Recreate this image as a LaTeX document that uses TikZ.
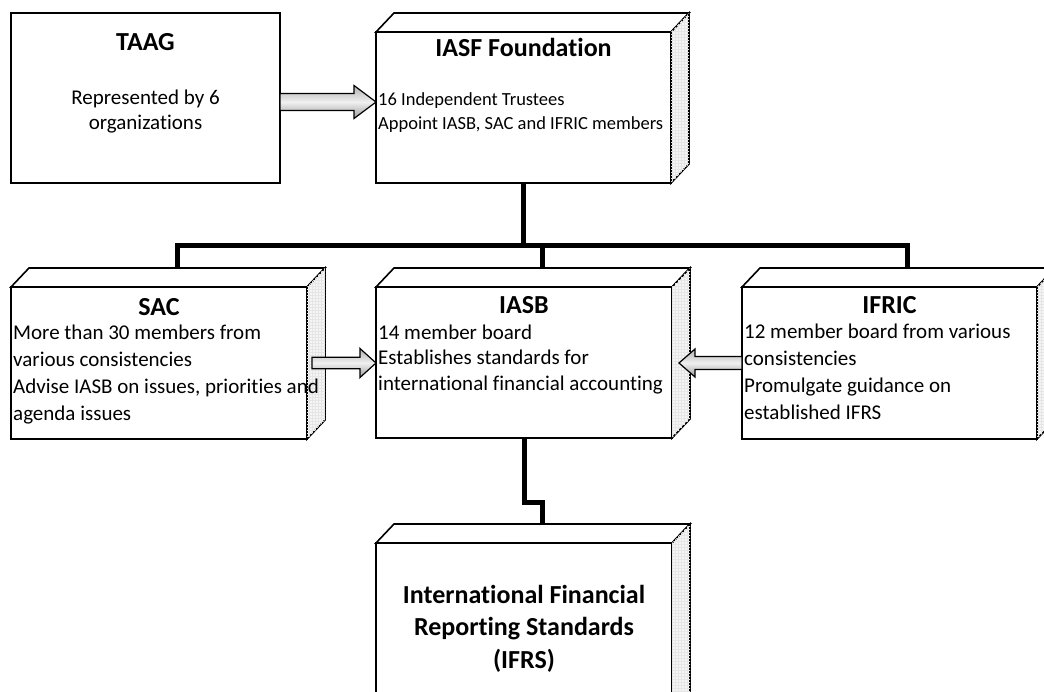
\documentclass[tikz,border=0pt]{standalone}
\usepackage{fontspec}
\setmainfont{Carlito}[Ligatures={NoCommon,NoContextual}]
\usetikzlibrary{calc,patterns}
\tikzset{
  boxline/.style={draw=black, line width=1.6pt, line join=miter},
  frontbox/.style={boxline, fill=white, inner sep=0pt, outer sep=0pt, anchor=north west},
  sidefill/.style={fill=gray!8, postaction={pattern=grid, pattern color=gray!20}},
  conn/.style={draw=black, line width=5pt, line join=miter},
  arrowstyle/.style={draw=black, line width=1.2pt, line join=miter, top color=gray!62, bottom color=gray!78, middle color=gray!12},
  titletext/.style={font=\fontsize{26}{31}\selectfont\bfseries, inner sep=0pt, anchor=base},
  bodytext/.style={inner sep=0pt, anchor=base west, align=left},
}
\newcommand\cubeparts[1]{%
  \draw[boxline, fill=white] (#1.north west) -- ++(18,-19) -- ([shift={(18,-19)}]#1.north east) -- (#1.north east) -- cycle;
  \draw[boxline, sidefill] (#1.north east) -- ++(18,-19) -- ([shift={(18,-19)}]#1.south east) -- (#1.south east) -- cycle;
}
% #1 start, #2 tip, #3 shaft half width, #4 head half width, #5 head length, #6 direction (1 right, -1 left)
\newcommand\harrow[6]{%
  \shadedraw[arrowstyle] let \p1=(#1), \p2=(#2) in
    (\x1,\y2+#3) -- (\x2-#6*#5,\y2+#3) -- (\x2-#6*#5,\y2+#4) -- (\x2,\y2)
    -- (\x2-#6*#5,\y2-#4) -- (\x2-#6*#5,\y2-#3) -- (\x1,\y2-#3) -- cycle;
}
\begin{document}
\begin{tikzpicture}[x=1pt,y=-1pt]
\useasboundingbox (0,0) rectangle (1044,691);
\clip (0,0) rectangle (1044,691);

% boxes
\node[frontbox, minimum width=269pt, minimum height=170pt] (taag) at (11,13) {};
\node[frontbox, minimum width=295pt, minimum height=151pt] (iasf) at (376,32) {};
\node[frontbox, minimum width=296pt, minimum height=152pt] (sac) at (11,287) {};
\node[frontbox, minimum width=296pt, minimum height=151pt] (iasb) at (376,287) {};
\node[frontbox, minimum width=295pt, minimum height=152pt] (ifric) at (742,287) {};
\node[frontbox, minimum width=296pt, minimum height=200pt] (ifrs) at (376,543) {};
\cubeparts{iasf}
\cubeparts{sac}
\cubeparts{iasb}
\cubeparts{ifric}
\cubeparts{ifrs}

% connectors
\coordinate (bus) at (0,245);
\coordinate (sacT) at ([shift={(18,-18)}]sac.north);
\coordinate (iasbT) at ([shift={(18,-18)}]iasb.north);
\coordinate (ifricT) at ([shift={(18,-18)}]ifric.north);
\coordinate (ifrsT) at ([shift={(18,-20)}]ifrs.north);
\draw[conn] (iasf.south) -- (iasf.south |- bus);
\draw[conn] (sacT) -- (sacT |- bus) -- (ifricT |- bus) -- (ifricT);
\draw[conn] (iasbT |- bus) -- (iasbT);
\draw[conn] (iasb.south) -- ++(0,64) -| (ifrsT);

% block arrows
\coordinate (a1) at ([yshift=-4pt]taag.east);
\harrow{a1}{iasf.west |- a1}{8.5pt}{16.5pt}{22pt}{1}
\coordinate (a2) at ([xshift=5pt]sac.east);
\harrow{a2}{iasb.west |- a2}{5.8pt}{14.5pt}{16pt}{1}
\coordinate (a3) at (ifric.west);
\harrow{a3}{[xshift=7pt]iasb.east |- a3}{6.5pt}{14pt}{16pt}{-1}

% texts (base anchor of multi-line nodes = last line's baseline)
\node[titletext] (taagT) at (145.5,50) {TAAG};
\node[inner sep=0pt, anchor=base, align=center, font=\fontsize{21}{25}\selectfont] (taagB) at (145.5,129) {Represented by 6\\organizations};

\node[titletext] (iasfT) at (523.5,56) {IASF Foundation};
\node[bodytext, font=\fontsize{18.5}{24}\selectfont] (iasfB) at (378,129) {16 Independent Trustees\\Appoint IASB, SAC and IFRIC members};

\node[titletext] (sacT2) at (159,315) {SAC};
\node[bodytext, font=\fontsize{21}{26.7}\selectfont] (sacB) at (13,420) {More than 30 members from\\various consistencies\\Advise IASB on issues, priorities and\\agenda issues};

\node[titletext] (iasbT2) at (524,313) {IASB};
\node[bodytext, font=\fontsize{21}{25.5}\selectfont] (iasbB) at (378,390) {14 member board\\Establishes standards for\\international financial accounting};

\node[titletext] (ifricT2) at (889.5,313) {IFRIC};
\node[bodytext, font=\fontsize{21}{26.7}\selectfont] (ifricB) at (744,419) {12 member board from various\\consistencies\\Promulgate guidance on\\established IFRS};

\node[titletext, align=center, font=\fontsize{26}{32.5}\selectfont\bfseries] (ifrsT2) at (524,668) {International Financial\\Reporting Standards\\(IFRS)};
\end{tikzpicture}
\end{document}
